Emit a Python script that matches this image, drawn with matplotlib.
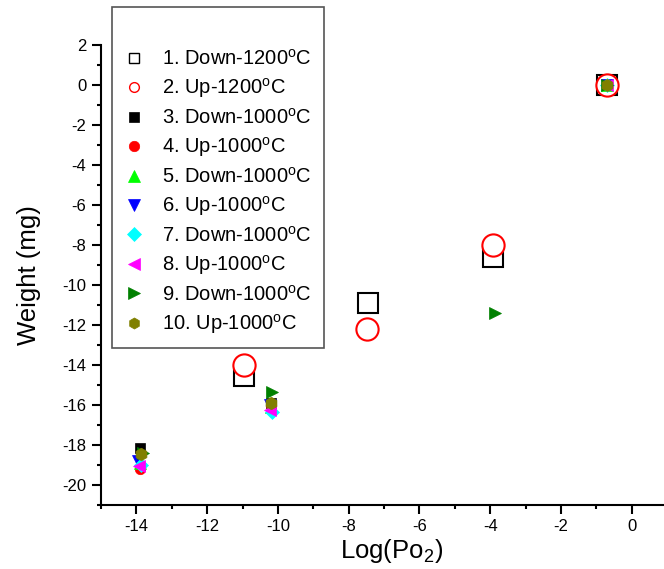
import matplotlib
matplotlib.use("Agg")
import matplotlib.pyplot as plt

plt.rcParams["font.family"] = ["Liberation Sans", "DejaVu Sans"]
plt.rcParams["mathtext.default"] = "regular"
plt.rcParams["axes.unicode_minus"] = False

# series data (x = Log(Po2), y = weight in mg)
labels = [
    "1. Down-1200$^{o}$C", "2. Up-1200$^{o}$C", "3. Down-1000$^{o}$C",
    "4. Up-1000$^{o}$C", "5. Down-1000$^{o}$C", "6. Up-1000$^{o}$C",
    "7. Down-1000$^{o}$C", "8. Up-1000$^{o}$C", "9. Down-1000$^{o}$C",
    "10. Up-1000$^{o}$C",
]
x1 = [-10.97, -7.44, -3.93, -0.7]
y1 = [-14.55, -10.92, -8.6, 0.0]
x2 = [-10.97, -7.49, -3.93, -0.7]
y2 = [-14.0, -12.22, -8.0, 0.0]
x3 = [-13.9, -10.2, -0.7]
y3 = [-18.15, -15.9, 0.0]
x4 = [-13.9, -10.2, -0.7]
y4 = [-19.2, -16.0, 0.0]
x5 = [-13.9, -10.2, -0.7]
y5 = [-18.9, -16.1, 0.0]
x6 = [-13.95, -10.22, -0.7]
y6 = [-18.8, -16.0, 0.0]
x7 = [-13.87, -10.16, -0.7]
y7 = [-19.0, -16.35, 0.0]
x8 = [-13.92, -10.22, -0.7]
y8 = [-19.05, -16.25, 0.0]
x9 = [-13.8, -10.18, -3.87, -0.7]
y9 = [-18.42, -15.37, -11.4, 0.0]
x10 = [-13.88, -10.2, -0.7]
y10 = [-18.45, -15.9, 0.0]

xs = [x1, x2, x3, x4, x5, x6, x7, x8, x9, x10]
ys = [y1, y2, y3, y4, y5, y6, y7, y8, y9, y10]

# marker, edge colour, face colour, size (pt), legend size
styles = [
    ("s", "black", "white", 14.5, 6.5),
    ("o", "red", "white", 16, 7),
    ("s", "black", "black", 7, 6.5),
    ("o", "red", "red", 7.5, 7.5),
    ("^", "#00ff00", "#00ff00", 8, 8),
    ("v", "blue", "blue", 8, 8),
    ("D", "cyan", "cyan", 7, 7),
    ("<", "magenta", "magenta", 8, 8),
    (">", "green", "green", 8.5, 8),
    ("h", "olive", "olive", 9, 8),
]

fig = plt.figure(figsize=(6.64, 5.69), dpi=100)
ax = fig.add_axes([101 / 664, 64.3 / 569, 566 / 664, 460 / 569])

for x, y, lab, (m, ec, fc, ms, _) in zip(xs, ys, labels, styles):
    ax.plot(x, y, linestyle="none", marker=m, markersize=ms,
            markeredgecolor=ec, markerfacecolor=fc,
            markeredgewidth=1.5 if fc == "white" else 0.5, label=lab)

ax.set_xlim(-15, 1)
ax.set_ylim(-21, 2)
ax.set_xticks(range(-14, 1, 2))
ax.set_xticks(range(-15, 1), minor=True)
ax.set_yticks(range(-20, 3, 2))
ax.set_yticks(range(-21, 3), minor=True)

for side in ["top", "right"]:
    ax.spines[side].set_visible(False)
for side in ["left", "bottom"]:
    ax.spines[side].set_linewidth(1.5)

ax.tick_params(which="major", direction="out", length=6.5, width=1.5,
               labelsize=12, pad=4)
ax.tick_params(which="minor", direction="out", length=3.2, width=1.5)

ax.set_xlabel("Log(Po$_2$)", fontsize=18.5, labelpad=2)
ax.xaxis.label.set_x((392 - 101) / 566)
ax.set_ylabel("Weight (mg)", fontsize=18.5, labelpad=15)

leg = ax.legend(loc="upper left", bbox_to_anchor=(111.7 / 664, 1 - 7.3 / 569),
                bbox_transform=fig.transFigure, fontsize=14.5, title=" ",
                title_fontsize=17, frameon=True, fancybox=False,
                edgecolor="#555555", framealpha=1, borderpad=0.6,
                labelspacing=0.37, handlelength=1.0, handletextpad=0.9,
                borderaxespad=0)
leg.get_frame().set_linewidth(1.2)
for h, st in zip(leg.legend_handles, styles):
    h.set_markersize(st[4])
    h.set_markeredgewidth(1.0 if st[2] == "white" else 0.5)

fig.savefig("out.png", dpi=100)
